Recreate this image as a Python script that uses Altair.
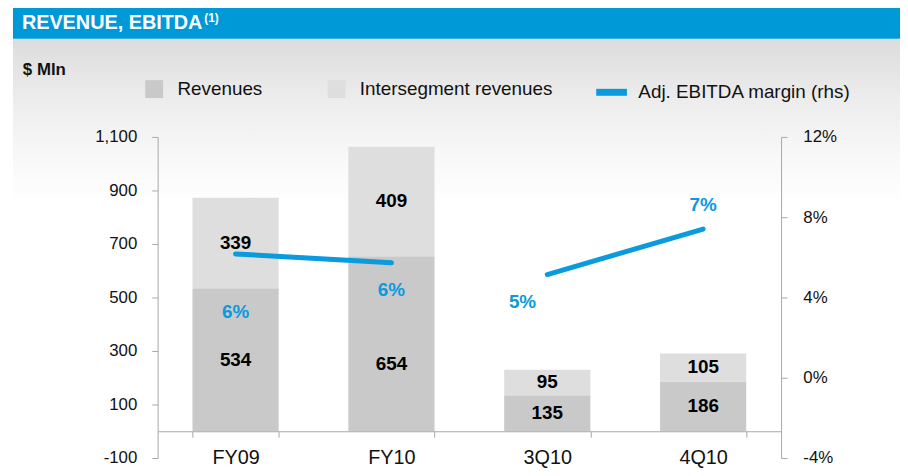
import altair as alt
import pandas as pd

# ---- data ----
periods = ["FY09", "FY10", "3Q10", "4Q10"]
revenues = [534, 654, 135, 186]
intersegment = [339, 409, 95, 105]
ebitda_margin = [0.0617, 0.0573, 0.0514, 0.0741]
line_segment = ["FY", "FY", "Q", "Q"]
series_names = ["Revenues", "Intersegment revenues"]
margin_name = "Adj. EBITDA margin (rhs)"
left_ticks = [-100, 100, 300, 500, 700, 900, 1100]
right_ticks = [-0.04, 0.0, 0.04, 0.08, 0.12]

BLUE = "#0a9ade"
FONT = "Liberation Sans"
MINUS_FIX = "replace(datum.label, '\u2212', '-')"

rows = []
for p, r, i in zip(periods, revenues, intersegment):
    rows.append({"period": p, "series": series_names[0], "value": r, "ord": 0})
    rows.append({"period": p, "series": series_names[1], "value": i, "ord": 1})
bars_df = pd.DataFrame(rows)

line_df = pd.DataFrame({
    "period": periods,
    "margin": ebitda_margin,
    "seg": line_segment,
    "name": [margin_name] * len(periods),
})

W, H = 629, 324

x_enc = alt.X(
    "period:N",
    sort=periods,
    scale=alt.Scale(paddingInner=0.447, paddingOuter=0.2235),
    title=None,
)
x_axis = alt.Axis(
    orient="bottom", offset=-27, domainColor="#a8a8a8", tickColor="#a8a8a8",
    tickBand="extent", tickSize=6, labelPadding=21, labelBaseline="middle",
    labelFontSize=20, labelColor="#111", labelFont=FONT, labelAngle=0, zindex=1,
)
y_left = alt.Scale(domain=[-100, 1100], nice=False, zero=False)
y_right = alt.Scale(domain=[-0.04, 0.12], nice=False, zero=False)

one = alt.Data(values=[{"t": "x"}])

# background gradient
bg = alt.Chart(one).mark_rect(
    color=alt.LinearGradient(
        gradient="linear",
        stops=[alt.GradientStop(color="#dcdcdc", offset=0),
               alt.GradientStop(color="#ececec", offset=0.35),
               alt.GradientStop(color="#f8f8f8", offset=0.7),
               alt.GradientStop(color="#ffffff", offset=1)],
        x1=0, x2=0, y1=0, y2=1,
    )
).encode(x=alt.value(-146), x2=alt.value(760), y=alt.value(-99), y2=alt.value(70))

# title bar
tbar = alt.Chart(one).mark_rect(color="#0099d8").encode(
    x=alt.value(-146), x2=alt.value(760), y=alt.value(-140), y2=alt.value(-99))

title_txt = alt.Chart(alt.Data(values=[{"t": "REVENUE, EBITDA"}])).mark_text(
    font=FONT, fontSize=20, fontWeight="bold", color="white", align="left",
    baseline="alphabetic").encode(text="t:N", x=alt.value(-137), y=alt.value(-109))
sup_txt = alt.Chart(alt.Data(values=[{"t": "(1)"}])).mark_text(
    font=FONT, fontSize=12, fontWeight="bold", color="white", align="left",
    baseline="alphabetic").encode(text="t:N", x=alt.value(47), y=alt.value(-116))
unit_txt = alt.Chart(alt.Data(values=[{"t": "$ Mln"}])).mark_text(
    font=FONT, fontSize=17, fontWeight="bold", color="#111", align="left",
    baseline="alphabetic").encode(text="t:N", x=alt.value(-136), y=alt.value(-62))

bars = alt.Chart(bars_df).mark_bar().encode(
    x=x_enc.axis(x_axis),
    y=alt.Y("value:Q", stack="zero", scale=y_left, title=None,
            axis=alt.Axis(orient="left", values=left_ticks, format=",d", grid=False,
                          domainColor="#a8a8a8", tickColor="#a8a8a8", tickSize=6,
                          labelPadding=15, labelFontSize=17, labelColor="#111",
                          labelFont=FONT, labelExpr=MINUS_FIX, zindex=1)),
    color=alt.Color("series:N",
                    scale=alt.Scale(domain=series_names, range=["#c9c9c9", "#dedede"]),
                    legend=alt.Legend(orient="none", direction="horizontal",
                                      legendX=-13, legendY=-58, title=None,
                                      symbolType="square", symbolSize=324,
                                      symbolStrokeWidth=0, labelFontSize=19,
                                      labelFont=FONT, labelColor="#111",
                                      labelOffset=14, columnPadding=65, padding=0,
                                      labelLimit=400)),
    order=alt.Order("ord:Q"),
)


def bar_text_layer(filter_expr, dy):
    return alt.Chart(bars_df).transform_stack(
        stack="value", groupby=["period"], as_=["y0", "y1"],
        sort=[alt.SortField("ord", order="ascending")],
    ).transform_calculate(mid="(datum.y0 + datum.y1) / 2").transform_filter(
        filter_expr
    ).mark_text(
        font=FONT, fontSize=19, fontWeight="bold", color="#000", baseline="middle", dy=dy
    ).encode(
        x=x_enc,
        y=alt.Y("mid:Q", scale=y_left, axis=None),
        text=alt.Text("value:Q", format="d"),
    )


# the FY10 revenue label sits lower in the bar to clear the margin label
lowered = "datum.period == 'FY10' && datum.ord == 0"
bar_text_main = bar_text_layer("!(" + lowered + ")", 0)
bar_text_low = bar_text_layer(lowered, 20)

line = alt.Chart(line_df).mark_line(strokeWidth=5, strokeCap="round").encode(
    x=x_enc,
    y=alt.Y("margin:Q", scale=y_right, title=None,
            axis=alt.Axis(orient="right", values=right_ticks, format=".0%", grid=False,
                          domainColor="#a8a8a8", tickColor="#a8a8a8", tickSize=6,
                          labelPadding=16, labelFontSize=17, labelColor="#111",
                          labelFont=FONT, labelExpr=MINUS_FIX, zindex=1)),
    detail="seg:N",
    stroke=alt.Stroke("name:N", scale=alt.Scale(range=[BLUE]),
                      legend=alt.Legend(orient="none", legendX=439, legendY=-64,
                                        title=None, symbolType="stroke",
                                        symbolSize=961, symbolStrokeWidth=7,
                                        labelFontSize=19, labelFont=FONT,
                                        labelColor="#111", labelOffset=8,
                                        padding=0, labelLimit=400)),
)

label_offsets = {"FY09": (0, 59), "FY10": (0, 28), "3Q10": (-25, 28), "4Q10": (0, -24)}
line_labels = []
for p in periods:
    dx, dy = label_offsets[p]
    line_labels.append(
        alt.Chart(line_df).transform_filter(alt.datum.period == p).mark_text(
            font=FONT, fontSize=19, fontWeight="bold", color=BLUE,
            baseline="middle", dx=dx, dy=dy,
        ).encode(
            x=x_enc,
            y=alt.Y("margin:Q", scale=y_right, axis=None),
            text=alt.Text("margin:Q", format=".0%"),
        )
    )

chart = alt.layer(
    bg, tbar, title_txt, sup_txt, unit_txt, bars, bar_text_main, bar_text_low,
    line, *line_labels
).resolve_scale(y="independent").properties(
    width=W, height=H,
    autosize=alt.AutoSizeParams(type="none"),
    padding={"left": 151, "top": 128, "right": 120, "bottom": 8},
    background="white",
).configure_view(stroke=None)

chart.save("out.html", embed_options={"renderer": "svg", "actions": False})
